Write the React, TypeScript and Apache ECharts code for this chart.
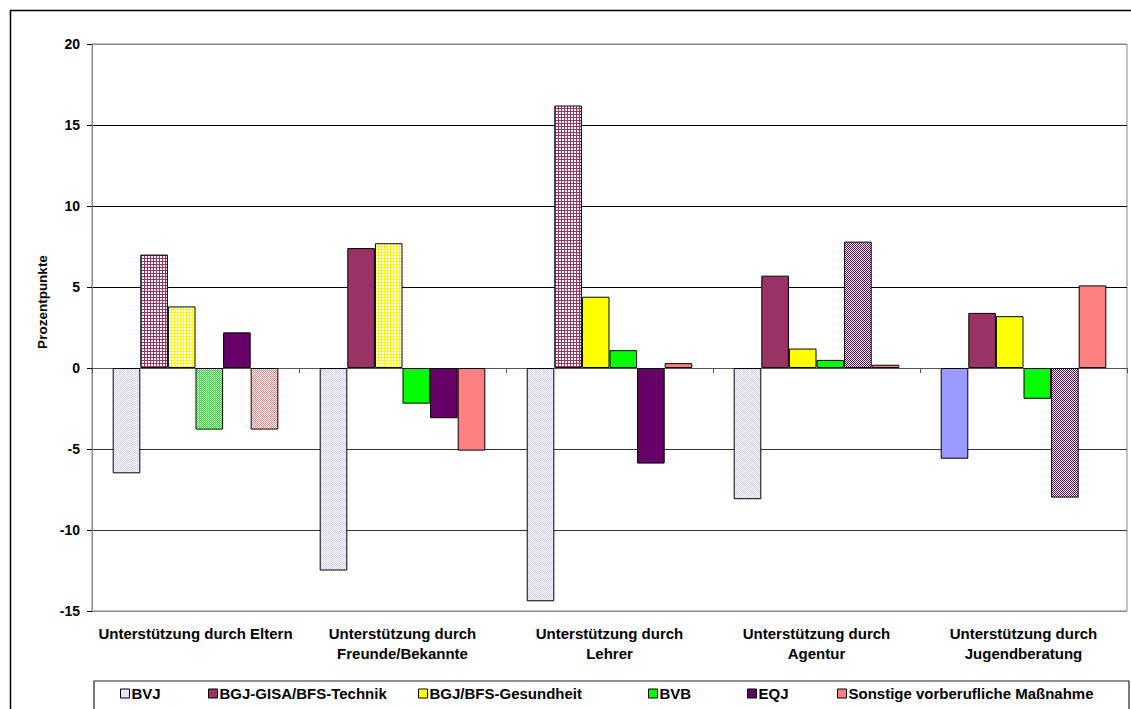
import React, { useEffect, useRef } from "react";
import * as echarts from "echarts";

const categories = [
  "Unterstützung durch Eltern",
  "Unterstützung durch\nFreunde/Bekannte",
  "Unterstützung durch\nLehrer",
  "Unterstützung durch\nAgentur",
  "Unterstützung durch\nJugendberatung",
];

const seriesNames = [
  "BVJ",
  "BGJ-GISA/BFS-Technik",
  "BGJ/BFS-Gesundheit",
  "BVB",
  "EQJ",
  "Sonstige vorberufliche Maßnahme",
];

const bvj = [-6.5, -12.5, -14.4, -8.1, -5.6];
const bgjGisa = [7.0, 7.4, 16.2, 5.7, 3.4];
const bgjGes = [3.8, 7.7, 4.4, 1.2, 3.2];
const bvb = [-3.8, -2.2, 1.1, 0.5, -1.9];
const eqj = [2.2, -3.1, -5.9, 7.8, -8.0];
const sonstige = [-3.8, -5.1, 0.3, 0.2, 5.1];

// hatched (patterned) bars per series
const bvjHatch = [true, true, true, true, false];
const gisaHatch = [true, false, true, false, false];
const gesHatch = [true, true, false, false, false];
const bvbHatch = [true, false, false, false, false];
const eqjHatch = [false, false, false, true, true];
const sonstHatch = [true, false, false, false, false];

const colors = ["#9999FF", "#993366", "#FFFF00", "#00FF00", "#660066", "#FF8080"];

const yTicks = { min: -15, max: 20, interval: 5 };

function makeTile(kind: "grid" | "checker", fg: string) {
  const size = kind === "grid" ? 3 : 2;
  const c = document.createElement("canvas");
  c.width = size;
  c.height = size;
  const ctx = c.getContext("2d")!;
  ctx.fillStyle = "#ffffff";
  ctx.fillRect(0, 0, size, size);
  ctx.fillStyle = fg;
  if (kind === "grid") {
    ctx.fillRect(0, 0, size, 1);
    ctx.fillRect(0, 0, 1, size);
  } else {
    ctx.fillRect(0, 0, 1, 1);
    ctx.fillRect(1, 1, 1, 1);
  }
  return {
    image: c.toDataURL(),
    repeat: "repeat",
    imageWidth: size,
    imageHeight: size,
  } as any;
}

export default function App() {
  const ref = useRef<HTMLDivElement>(null);

  useEffect(() => {
    if (!ref.current) return;
    const chart = echarts.init(ref.current, undefined, { renderer: "svg" });
    const font = "Arial, 'Liberation Sans', sans-serif";

    const patterns = [
      makeTile("checker", "#CCCCFF"),
      makeTile("grid", colors[1]),
      makeTile("grid", colors[2]),
      makeTile("checker", colors[3]),
      makeTile("checker", colors[4]),
      makeTile("checker", colors[5]),
    ];

    const values = [bvj, bgjGisa, bgjGes, bvb, eqj, sonstige];
    const hatches = [bvjHatch, gisaHatch, gesHatch, bvbHatch, eqjHatch, sonstHatch];

    const series = seriesNames.map((name, si) => ({
      name,
      type: "bar",
      xAxisIndex: 0,
      barGap: "0%",
      barCategoryGap: "20%",
      itemStyle: {
        color: si === 0 ? patterns[0] : colors[si],
        borderColor: "#000",
        borderWidth: 1,
      },
      data: values[si].map((v, i) => ({
        value: v,
        itemStyle: {
          color: hatches[si][i] ? patterns[si] : colors[si],
        },
      })),
    }));

    const legendX = [120, 208, 418, 648, 747, 837];
    const legends = seriesNames.map((name, i) => ({
      data: [name],
      left: legendX[i],
      top: 686,
      padding: 0,
      itemWidth: 9,
      itemHeight: 9,
      icon: "rect",
      itemStyle: { borderColor: "#000", borderWidth: 1 },
      textStyle: { fontFamily: font, fontWeight: "bold", fontSize: 15, color: "#000", padding: [0, 0, 0, -3] },
      selectedMode: false,
    }));

    chart.setOption({
      animation: false,
      backgroundColor: "#fff",
      grid: {
        left: 92,
        right: 4,
        top: 44,
        bottom: 98,
        show: true,
        borderColor: "#888",
        borderWidth: 1,
      },
      legend: legends,
      xAxis: [
        {
          type: "category",
          data: categories,
          position: "bottom",
          axisLine: { show: false, onZero: false },
          axisTick: { show: false },
          axisLabel: {
            interval: 0,
            margin: 12,
            fontFamily: font,
            fontWeight: "bold",
            fontSize: 15,
            color: "#000",
            lineHeight: 20,
          },
        },
        {
          type: "category",
          data: categories,
          position: "bottom",
          axisLine: { show: true, onZero: true, lineStyle: { color: "#555", width: 1 } },
          axisTick: { show: true, length: 5, lineStyle: { color: "#555" } },
          axisLabel: { show: false },
          splitLine: { show: false },
        },
      ],
      yAxis: {
        type: "value",
        min: yTicks.min,
        max: yTicks.max,
        interval: yTicks.interval,
        axisLine: { show: true, lineStyle: { color: "#888" } },
        axisTick: { show: true, length: 5, lineStyle: { color: "#000" } },
        axisLabel: {
          margin: 12,
          fontFamily: font,
          fontWeight: "bold",
          fontSize: 14,
          color: "#000",
        },
        splitLine: {
          show: true,
          lineStyle: {
            color: ["#888", "#333", "#333", "#333", "#000", "#000", "#000", "#888"],
            width: 1,
          },
        },
      },
      graphic: [
        {
          type: "rect",
          shape: { x: 10.5, y: 10.5, width: 1140, height: 720 },
          style: { fill: "none", stroke: "#000", lineWidth: 1.5 },
          silent: true,
        },
        {
          type: "rect",
          shape: { x: 94, y: 681, width: 1035, height: 40 },
          style: { fill: "none", stroke: "#222", lineWidth: 1.2 },
          silent: true,
        },
        {
          type: "text",
          x: 42,
          y: 302,
          rotation: Math.PI / 2,
          style: {
            text: "Prozentpunkte",
            fontFamily: font,
            fontWeight: "bold",
            fontSize: 13.5,
            fill: "#000",
            align: "center",
            verticalAlign: "middle",
          },
          silent: true,
        },
      ],
      series,
    });

    return () => chart.dispose();
  }, []);

  return (
    <div
      ref={ref}
      style={{ position: "absolute", left: 0, top: 0, width: 1131, height: 709 }}
    />
  );
}
